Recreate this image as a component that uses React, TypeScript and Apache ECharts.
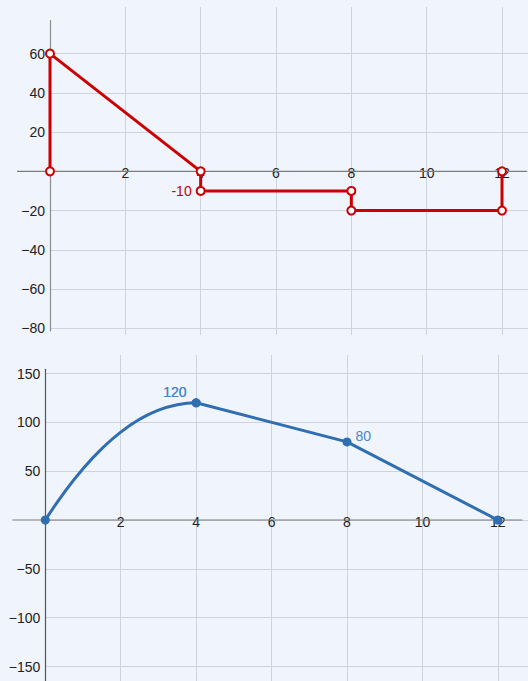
import React, { useEffect, useRef } from 'react';
import * as echarts from 'echarts';

// Shear diagram (top)
const shearX = [0, 0, 4, 4, 8, 8, 12, 12];
const shearY = [0, 60, 0, -10, -10, -20, -20, 0];
const shearLabelIndex = [3];

// Moment diagram (bottom): parabolic part 0..4, then straight 4 -> 8 -> 12
const momentCurveX = [0, 0.5, 1, 1.5, 2, 2.5, 3, 3.5, 4];
const momentCurveY = [0, 28.1, 52.5, 73.1, 90, 103.1, 112.5, 118.1, 120];
const momentLineX = [4, 8, 12];
const momentLineY = [120, 80, 0];
const momentNodes = [0, 4, 8, 12];
const momentLabelLeft = [4];
const momentLabelRight = [8];

const BG = '#f0f4fc';
const FONT = '"Liberation Sans", Arial, Helvetica, sans-serif';
const RED = '#cc0000';
const BLUE = '#2f6eb0';
const BLUE_LABEL = '#4a86c8';
const GRID_COLOR = '#cfd3dc';

const fmt = (v: number) => (Math.abs(v) < 1e-9 ? '' : String(v).replace('-', '\u2212'));

export default function App() {
  const ref = useRef<HTMLDivElement>(null);
  useEffect(() => {
    document.body.style.margin = '0';
    document.body.style.background = BG;
    const chart = echarts.init(ref.current!, null, { renderer: 'svg' });

    const H = 681;
    // data grids
    const top = { left: 50, right: 0, top: 20.7, bottom: H - 331, xMax: 12.69, yMin: -81.4, yMax: 76.8, step: 20 };
    const bot = { left: 45.3, right: 0, top: 369.3, bottom: 0, xMax: 12.8, yMin: -164.8, yMax: 154.3, step: 50 };
    const zeroOffset = (g: any) => {
      const h = H - g.top - g.bottom;
      return -(h * (0 - g.yMin)) / (g.yMax - g.yMin);
    };

    const labelStyle = { color: '#222', fontSize: 14, fontFamily: FONT };

    const dataX = (g: any, gridIndex: number) => ({
      type: 'value',
      gridIndex,
      min: 0,
      max: g.xMax,
      interval: 2,
      offset: zeroOffset(g),
      axisLine: { show: false, onZero: false },
      axisTick: { show: false },
      axisLabel: { ...labelStyle, formatter: fmt, margin: 1.5, verticalAlign: 'middle', showMinLabel: false, showMaxLabel: false },
      splitLine: { show: false },
    });
    const dataY = (g: any, gridIndex: number, axisColor: string) => ({
      type: 'value',
      gridIndex,
      min: g.yMin,
      max: g.yMax,
      minInterval: g.step,
      maxInterval: g.step,
      axisLine: { show: true, onZero: false, lineStyle: { color: axisColor, width: 1.2 } },
      axisTick: { show: false },
      axisLabel: { ...labelStyle, formatter: fmt, margin: 5, showMinLabel: false, showMaxLabel: false },
      splitLine: { show: true, showMinLine: false, showMaxLine: false, lineStyle: { color: GRID_COLOR, width: 1 } },
    });
    const vgridX = (g: any, gridIndex: number) => ({
      type: 'value',
      gridIndex,
      min: 0,
      max: g.xMax,
      interval: 2,
      axisLine: { show: false },
      axisTick: { show: false },
      axisLabel: { show: false },
      splitLine: { show: true, showMinLine: false, showMaxLine: false, lineStyle: { color: GRID_COLOR, width: 1 } },
    });
    const vgridY = (gridIndex: number) => ({
      type: 'value',
      gridIndex,
      min: -1,
      max: 1,
      show: false,
      splitLine: { show: false },
    });

    const shearData = shearX.map((x, i) => ({
      value: [x, shearY[i]],
      label: shearLabelIndex.includes(i)
        ? { show: true, position: 'left', distance: 4, color: RED, fontSize: 14, fontFamily: FONT, formatter: String(shearY[i]) }
        : { show: false },
    }));

    const momentLabel = (x: number, y: number) => {
      if (momentLabelLeft.includes(x)) {
        return { show: true, position: 'left', distance: 5, offset: [0, -11], color: BLUE_LABEL, fontSize: 14, fontFamily: FONT, formatter: String(y) };
      }
      if (momentLabelRight.includes(x)) {
        return { show: true, position: 'right', distance: 4, offset: [0, -6], color: BLUE_LABEL, fontSize: 14, fontFamily: FONT, formatter: String(y) };
      }
      return { show: false };
    };
    const momentItem = (x: number, y: number) => {
      const node = momentNodes.includes(x);
      return { value: [x, y], symbol: node ? 'circle' : 'none', symbolSize: node ? 9 : 0, label: momentLabel(x, y) };
    };
    const curveData = momentCurveX.map((x, i) => momentItem(x, momentCurveY[i]));
    const lineData = momentLineX.map((x, i) => momentItem(x, momentLineY[i]));

    chart.setOption({
      animation: false,
      backgroundColor: BG,
      grid: [
        { left: top.left, right: top.right, top: top.top, bottom: top.bottom },
        { left: top.left, right: top.right, top: 7, bottom: H - 335 },
        { left: bot.left, right: bot.right, top: bot.top, bottom: bot.bottom },
        { left: bot.left, right: bot.right, top: 355, bottom: 0 },
      ],
      xAxis: [dataX(top, 0), vgridX(top, 1), dataX(bot, 2), vgridX(bot, 3)],
      yAxis: [dataY(top, 0, '#8c8c8c'), vgridY(1), dataY(bot, 2, '#555555'), vgridY(3)],
      series: [
        {
          type: 'line',
          xAxisIndex: 0,
          yAxisIndex: 0,
          data: shearData,
          lineStyle: { color: RED, width: 3 },
          itemStyle: { color: '#ffffff', borderColor: RED, borderWidth: 2 },
          symbol: 'circle',
          symbolSize: 8,
          showSymbol: true,
          clip: false,
          z: 3,
        },
        {
          type: 'line',
          xAxisIndex: 2,
          yAxisIndex: 2,
          data: curveData,
          smooth: 0.5,
          lineStyle: { color: BLUE, width: 3 },
          itemStyle: { color: BLUE },
          showSymbol: true,
          clip: false,
          z: 3,
        },
        {
          type: 'line',
          xAxisIndex: 2,
          yAxisIndex: 2,
          data: lineData,
          lineStyle: { color: BLUE, width: 3 },
          itemStyle: { color: BLUE },
          showSymbol: true,
          clip: false,
          z: 3,
        },
      ],
    });

    const px = (g: number, x: number, y: number) => chart.convertToPixel({ gridIndex: g }, [x, y]) as number[];
    const seg = (g: number, a: number[], b: number[], color: string) => {
      const p1 = px(g, a[0], a[1]);
      const p2 = px(g, b[0], b[1]);
      return {
        type: 'line',
        z: 1,
        shape: { x1: p1[0], y1: p1[1], x2: p2[0], y2: p2[1] },
        style: { stroke: color, lineWidth: 1.2 },
        silent: true,
      };
    };
    chart.setOption({
      graphic: [
        seg(0, [-0.876, 0], [12.66, 0], '#7d7d7d'),
        seg(2, [-0.875, 0], [12.65, 0], '#7d7d7d'),
      ],
    });

    return () => chart.dispose();
  }, []);
  return <div ref={ref} style={{ width: 528, height: 681, background: BG }} />;
}
